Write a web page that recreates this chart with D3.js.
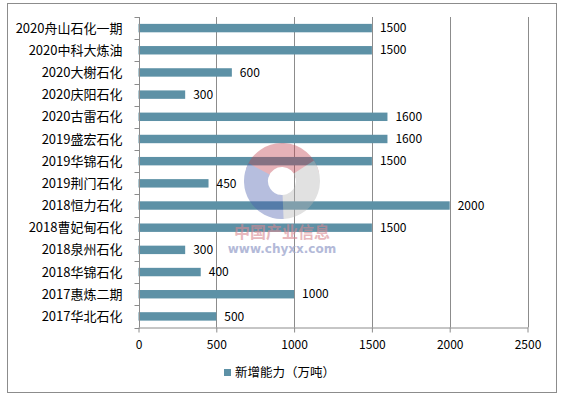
<!DOCTYPE html>
<html>
<head>
<meta charset="utf-8">
<script src="https://cdn.jsdelivr.net/npm/d3@7"></script>
<style>
  body { margin: 0; background: #fff; }
  text { font-family: "Noto Sans CJK SC", "Noto Sans", sans-serif; }
</style>
</head>
<body>
<div id="chart"></div>
<script>
const categories = ["2020舟山石化一期", "2020中科大炼油", "2020大榭石化", "2020庆阳石化",
    "2020古雷石化", "2019盛宏石化", "2019华锦石化", "2019荆门石化", "2018恒力石化",
    "2018曹妃甸石化", "2018泉州石化", "2018华锦石化", "2017惠炼二期", "2017华北石化"];
const capacity = [1500, 1500, 600, 300, 1600, 1600, 1500, 450, 2000, 1500, 300, 400, 1000, 500];
const xTicks = [0, 500, 1000, 1500, 2000, 2500];
const seriesName = "新增能力（万吨）";

const W = 564, H = 397;
const plot = {left: 138.5, right: 527.5, top: 17, bottom: 327.5};
const barColor = "#5d91a6";
const axisColor = "#8c8c8c";

const svg = d3.select("#chart").append("svg")
    .attr("width", W)
    .attr("height", H);

// outer frame
svg.append("rect")
    .attr("x", 7.5).attr("y", 3.5)
    .attr("width", 549).attr("height", 389)
    .attr("fill", "#fff")
    .attr("stroke", "#8c8c8c");

const x = d3.scaleLinear()
    .domain([0, 2500])
    .range([plot.left, plot.right]);

const y = d3.scaleBand()
    .domain(categories)
    .range([plot.top, plot.bottom])
    .paddingInner(0.62)
    .paddingOuter(0.31);

const band = (plot.bottom - plot.top) / categories.length;

// vertical gridlines
svg.append("g")
    .selectAll("line")
    .data(xTicks.slice(1))
    .enter()
    .append("line")
    .attr("x1", d => Math.round(x(d)) + 0.5)
    .attr("x2", d => Math.round(x(d)) + 0.5)
    .attr("y1", plot.top)
    .attr("y2", plot.bottom)
    .attr("stroke", axisColor);

// bars
svg.append("g")
    .selectAll("rect")
    .data(capacity)
    .enter()
    .append("rect")
    .attr("x", x(0))
    .attr("y", (d, i) => y(categories[i]))
    .attr("width", d => x(d) - x(0))
    .attr("height", y.bandwidth())
    .attr("fill", barColor);

// value labels
svg.append("g")
    .selectAll("text")
    .data(capacity)
    .enter()
    .append("text")
    .attr("x", d => x(d) + 8)
    .attr("y", (d, i) => y(categories[i]) + y.bandwidth() / 2)
    .attr("dy", "0.35em")
    .style("font-size", "12px")
    .style("fill", "#000")
    .text(d => d);

// watermark logo (sits on top of the bars)
const logo = svg.append("g")
    .attr("transform", "translate(282,181)")
    .style("opacity", 0.4);
const arc = d3.arc().innerRadius(14).outerRadius(38);
logo.append("path")
    .attr("d", arc({startAngle: -1.25, endAngle: 1.35}))
    .attr("fill", "#c2424f");
logo.append("path")
    .attr("d", arc({startAngle: 1.0, endAngle: 3.4}))
    .attr("fill", "#b5b5b5");
logo.append("path")
    .attr("d", arc({startAngle: 3.1, endAngle: 5.2}))
    .attr("fill", "#4a5fae");
svg.append("text")
    .attr("x", 282).attr("y", 238)
    .attr("text-anchor", "middle")
    .style("font-size", "16px")
    .style("font-weight", "bold")
    .style("fill", "#d98a92")
    .style("opacity", 0.6)
    .text("中国产业信息");
svg.append("text")
    .attr("x", 282).attr("y", 253)
    .attr("text-anchor", "middle")
    .style("font-family", "'DejaVu Sans', sans-serif")
    .style("font-size", "12px")
    .style("font-weight", "bold")
    .style("fill", "#9aa3cc")
    .style("opacity", 0.75)
    .text("www.chyxx.com");

// y axis
const yAxis = svg.append("g")
    .attr("transform", `translate(${Math.round(plot.left) + 0.5},0)`);
yAxis.append("line")
    .attr("y1", plot.top).attr("y2", plot.bottom)
    .attr("stroke", axisColor);
yAxis.selectAll("line.tick")
    .data(d3.range(categories.length + 1))
    .enter()
    .append("line")
    .attr("class", "tick")
    .attr("x1", -5).attr("x2", 0)
    .attr("y1", i => Math.round(plot.top + i * band) + 0.5)
    .attr("y2", i => Math.round(plot.top + i * band) + 0.5)
    .attr("stroke", axisColor);
yAxis.selectAll("text")
    .data(categories)
    .enter()
    .append("text")
    .attr("x", -17)
    .attr("y", d => y(d) + y.bandwidth() / 2)
    .attr("dy", "0.35em")
    .attr("text-anchor", "end")
    .style("font-size", "13px")
    .style("fill", "#000")
    .text(d => d);

// x axis
const xAxis = svg.append("g")
    .attr("transform", `translate(0,${plot.bottom})`)
    .call(d3.axisBottom(x).tickValues(xTicks).tickFormat(d3.format("d")).tickSize(5).tickSizeOuter(0));
xAxis.select(".domain").attr("stroke", axisColor);
xAxis.selectAll(".tick line").attr("stroke", axisColor);
xAxis.selectAll(".tick text")
    .attr("y", 13)
    .style("font-size", "12px")
    .style("font-family", "'Noto Sans CJK SC', sans-serif")
    .style("fill", "#000");

// legend
const legend = svg.append("g").attr("transform", "translate(224,369)");
legend.append("rect")
    .attr("width", 7).attr("height", 7)
    .attr("fill", barColor);
legend.append("text")
    .attr("x", 11).attr("y", 4)
    .attr("dy", "0.35em")
    .style("font-size", "12.5px")
    .style("fill", "#000")
    .text(seriesName);
</script>
</body>
</html>
